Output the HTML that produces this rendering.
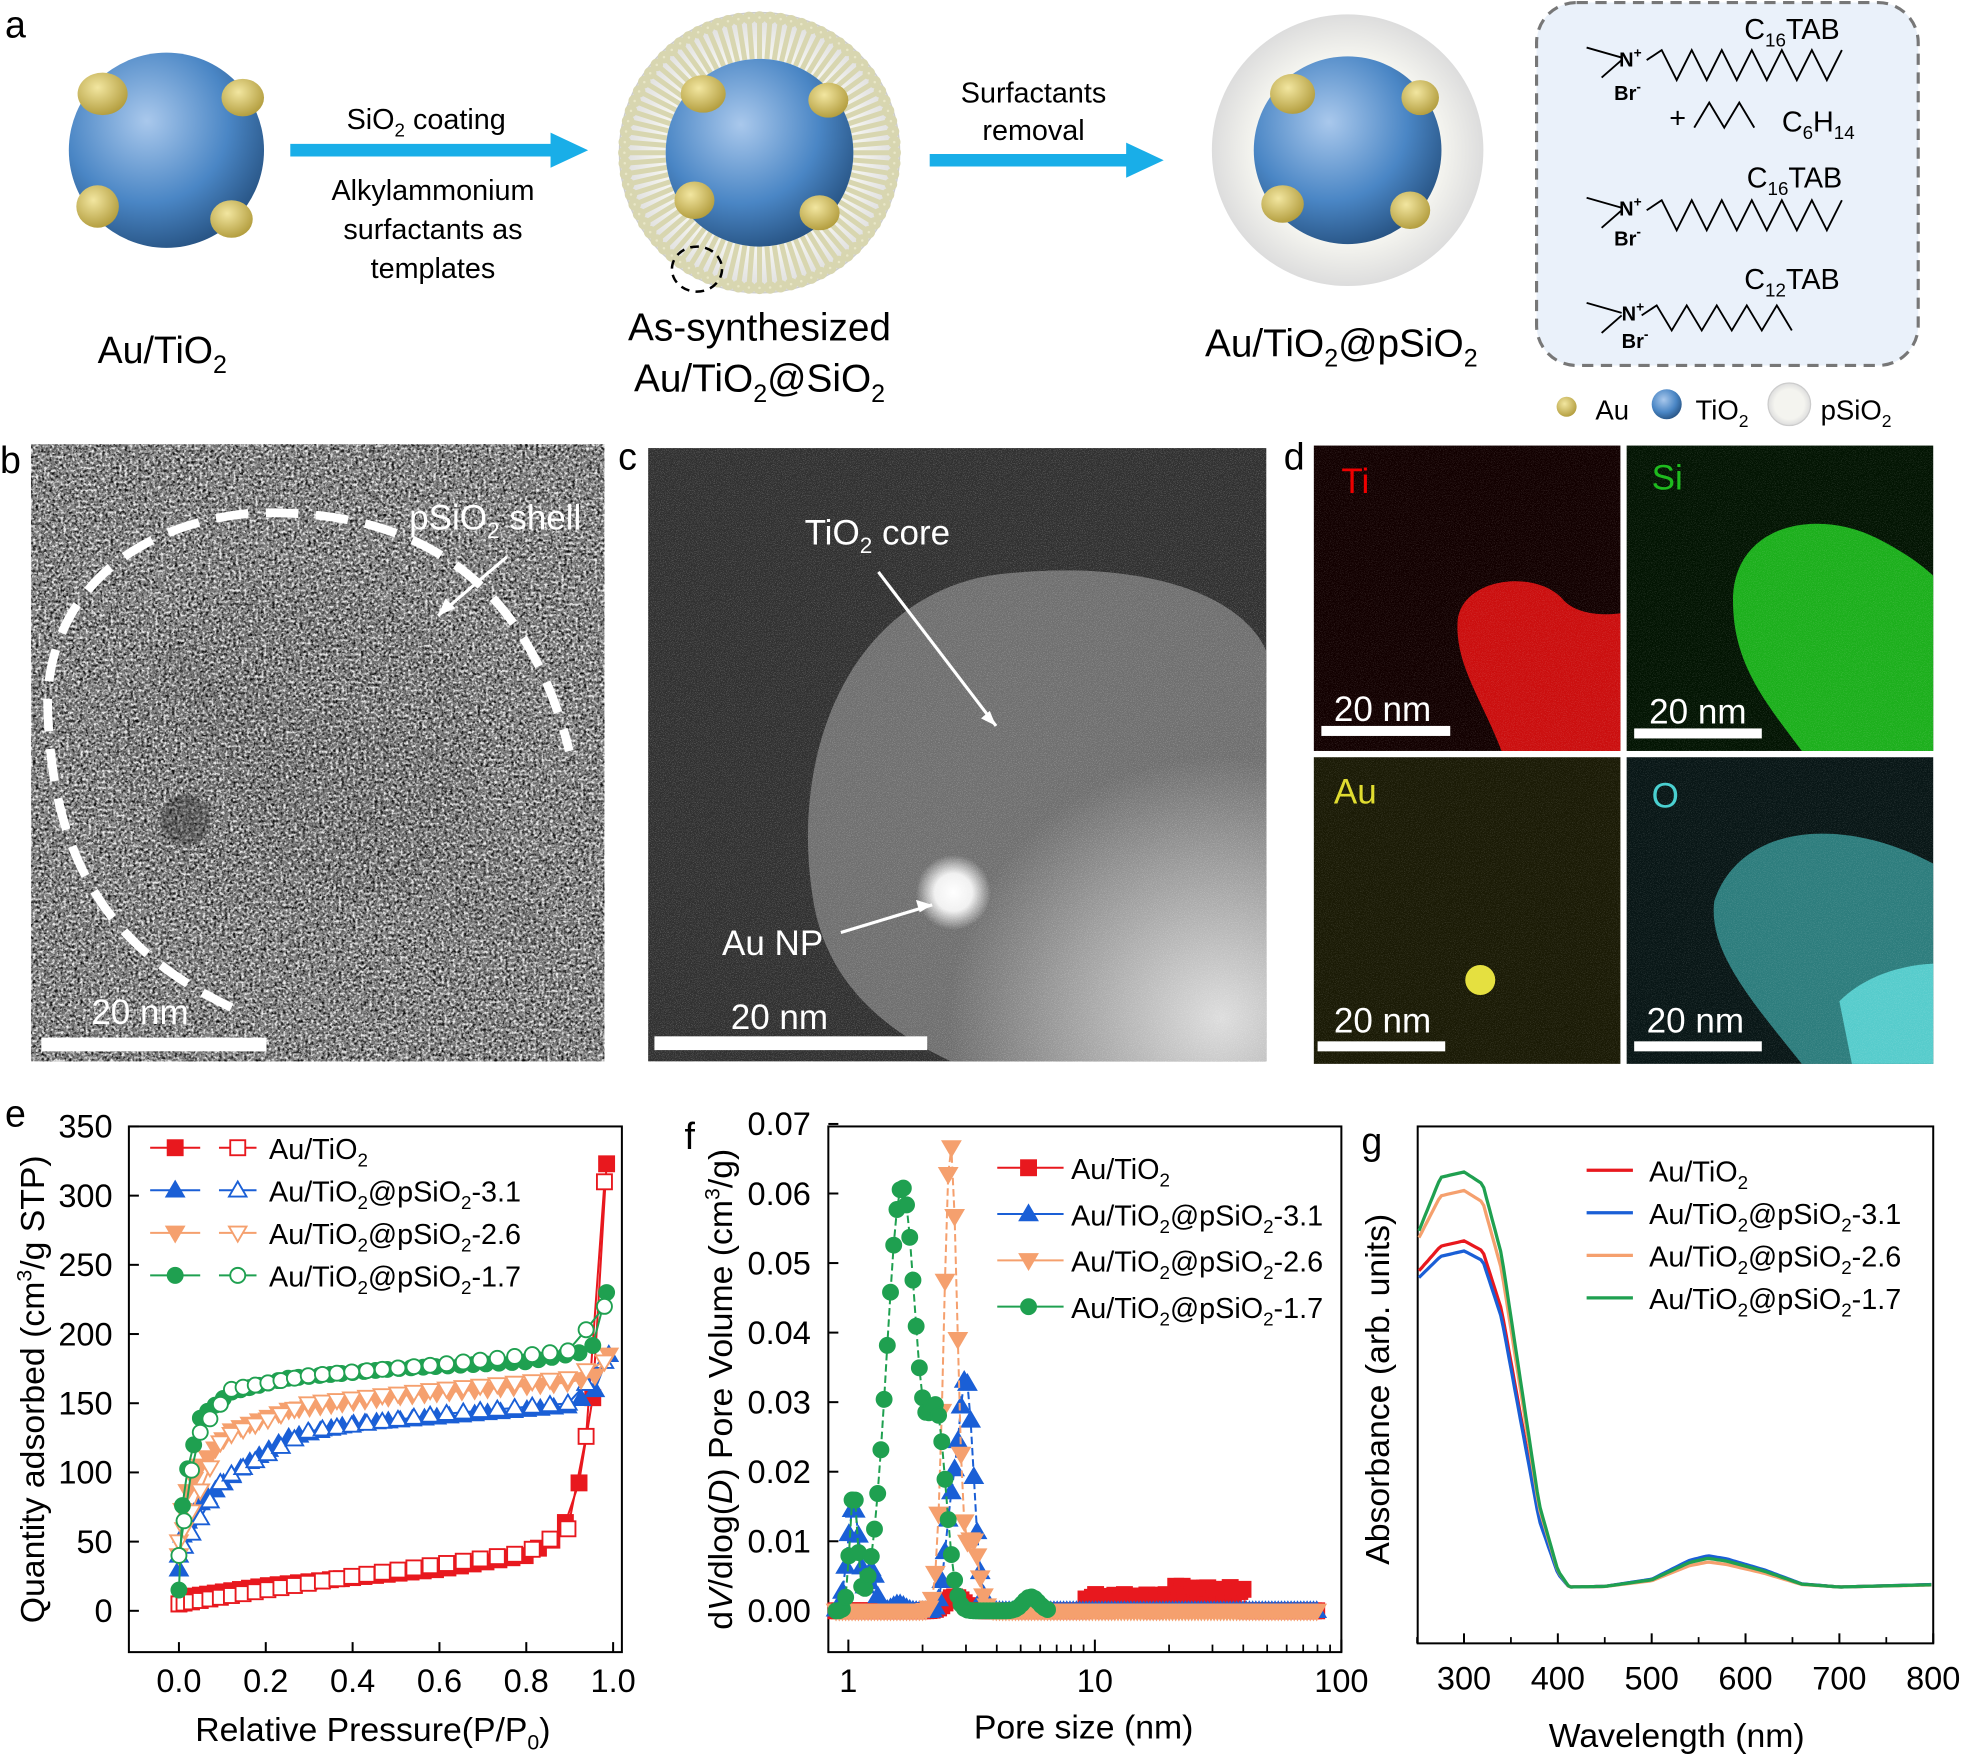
<!DOCTYPE html>
<html><head><meta charset="utf-8"><style>
html,body{margin:0;padding:0;background:#fff}
svg{display:block}
text{font-family:"Liberation Sans",Arial,sans-serif;fill:#000}
</style></head><body>
<svg id="s" width="1962" height="1756" viewBox="0 0 1568 1403" preserveAspectRatio="none" xmlns="http://www.w3.org/2000/svg">
<defs>
<radialGradient id="bl" cx="0.4" cy="0.35" r="0.7"><stop offset="0" stop-color="#a9c8ec"/><stop offset="0.6" stop-color="#4a86c5"/><stop offset="1" stop-color="#25507f"/></radialGradient>
<radialGradient id="au" cx="0.4" cy="0.35" r="0.7"><stop offset="0" stop-color="#f2e6a0"/><stop offset="1" stop-color="#b09a3a"/></radialGradient>
<radialGradient id="sh" cx="0.5" cy="0.5" r="0.5"><stop offset="0.7" stop-color="#f4f4ef"/><stop offset="1" stop-color="#ddd"/></radialGradient>
<filter id="nzb" x="0" y="0" width="1" height="1"><feTurbulence type="fractalNoise" baseFrequency="0.45" numOctaves="2" seed="3"/><feColorMatrix type="matrix" values="0 0 0 0 0  0 0 0 0 0  0 0 0 0 0  3 0 0 0 -1.3"/></filter>
<filter id="nzw" x="0" y="0" width="1" height="1"><feTurbulence type="fractalNoise" baseFrequency="0.45" numOctaves="2" seed="11"/><feColorMatrix type="matrix" values="0 0 0 0 1  0 0 0 0 1  0 0 0 0 1  3 0 0 0 -1.3"/></filter>
<filter id="nzf" x="0" y="0" width="1" height="1"><feTurbulence type="fractalNoise" baseFrequency="1.5" numOctaves="1" seed="5"/><feColorMatrix type="matrix" values="0 0 0 0 1  0 0 0 0 1  0 0 0 0 1  4 0 0 0 -2"/></filter>
<radialGradient id="aunp" cx="0.5" cy="0.5" r="0.5"><stop offset="0" stop-color="#fff"/><stop offset="0.5" stop-color="#fff" stop-opacity="0.9"/><stop offset="1" stop-color="#fff" stop-opacity="0"/></radialGradient>
<radialGradient id="cgl" cx="0.9" cy="0.9" r="0.6"><stop offset="0" stop-color="#ddd"/><stop offset="1" stop-color="#ddd" stop-opacity="0"/></radialGradient>
</defs>

<!-- panel a -->
<text x="4" y="30" font-size="30">a</text>
<circle cx="133" cy="120" r="78" fill="url(#bl)"/>
<g fill="url(#au)"><ellipse cx="82" cy="75" rx="20" ry="17"/><ellipse cx="194" cy="78" rx="17" ry="15"/><ellipse cx="78" cy="165" rx="17" ry="17"/><ellipse cx="185" cy="175" rx="17" ry="15"/></g>
<text x="78" y="290" font-size="30">Au/TiO<tspan font-size="20" dy="8">2</tspan></text>
<path d="M232 120H450" stroke="#19aee8" stroke-width="10"/><path d="M440 106l30 14-30 14z" fill="#19aee8"/>
<text x="277" y="103" font-size="23">SiO<tspan font-size="15" dy="6">2</tspan><tspan dy="-6"> coating</tspan></text>
<text x="346" y="160" font-size="23" text-anchor="middle">Alkylammonium</text>
<text x="346" y="191" font-size="23" text-anchor="middle">surfactants as</text>
<text x="346" y="222" font-size="23" text-anchor="middle">templates</text>
<circle cx="607" cy="122" r="112" fill="url(#sh)" stroke="#ccc"/>
<g id="spk" stroke="#d8d6b0" stroke-width="4"></g>
<circle cx="607" cy="122" r="75" fill="url(#bl)"/>
<g fill="url(#au)"><ellipse cx="562" cy="75" rx="18" ry="15"/><ellipse cx="662" cy="80" rx="16" ry="14"/><ellipse cx="555" cy="160" rx="16" ry="15"/><ellipse cx="655" cy="170" rx="16" ry="14"/></g>
<ellipse cx="557" cy="215" rx="20" ry="18" fill="none" stroke="#000" stroke-width="2" stroke-dasharray="7 5"/>
<text x="607" y="272" font-size="31" text-anchor="middle">As-synthesized</text>
<text x="607" y="313" font-size="31" text-anchor="middle">Au/TiO<tspan font-size="20" dy="8">2</tspan><tspan dy="-8">@SiO</tspan><tspan font-size="20" dy="8">2</tspan></text>
<path d="M743 128H910" stroke="#19aee8" stroke-width="10"/><path d="M900 114l30 14-30 14z" fill="#19aee8"/>
<text x="826" y="82" font-size="23" text-anchor="middle">Surfactants</text>
<text x="826" y="112" font-size="23" text-anchor="middle">removal</text>
<circle cx="1077" cy="120" r="108" fill="url(#sh)" stroke="#ddd"/>
<circle cx="1077" cy="120" r="75" fill="url(#bl)"/>
<g fill="url(#au)"><ellipse cx="1033" cy="75" rx="18" ry="16"/><ellipse cx="1135" cy="78" rx="15" ry="14"/><ellipse cx="1025" cy="163" rx="17" ry="15"/><ellipse cx="1127" cy="168" rx="16" ry="15"/></g>
<text x="963" y="285" font-size="31">Au/TiO<tspan font-size="20" dy="8">2</tspan><tspan dy="-8">@pSiO</tspan><tspan font-size="20" dy="8">2</tspan></text>
<rect x="1228" y="2" width="305" height="290" rx="32" fill="#eaf1fa" stroke="#777" stroke-width="2.5" stroke-dasharray="9 6"/>
<g font-size="22" stroke="#000" stroke-width="1.5" fill="none">
<path d="M1316 48l12-8 12 24 12-24 12 24 12-24 12 24 12-24 12 24 12-24 12 24 12-24 12 24 12-24"/>
<path d="M1354 102l12-20 12 20 12-20 12 20"/>
<path d="M1316 168l12-8 12 24 12-24 12 24 12-24 12 24 12-24 12 24 12-24 12 24 12-24 12 24 12-24"/>
<path d="M1312 252l12-8 12 20 12-20 12 20 12-20 12 20 12-20 12 20 12-20 12 20"/>
<path d="M1268 38l28 8M1280 62l16-14M1268 158l28 8M1280 182l16-14M1268 242l28 8M1280 266l16-14"/>
</g>
<g font-size="16" font-weight="bold"><text x="1294" y="53">N<tspan font-size="11" dy="-7">+</tspan></text><text x="1290" y="80">Br<tspan font-size="11" dy="-7">-</tspan></text>
<text x="1294" y="172">N<tspan font-size="11" dy="-7">+</tspan></text><text x="1290" y="196">Br<tspan font-size="11" dy="-7">-</tspan></text>
<text x="1296" y="256">N<tspan font-size="11" dy="-7">+</tspan></text><text x="1296" y="278">Br<tspan font-size="11" dy="-7">-</tspan></text></g>
<g font-size="23"><text x="1394" y="31">C<tspan font-size="15" dy="6">16</tspan><tspan dy="-6">TAB</tspan></text>
<text x="1334" y="102">+</text><text x="1424" y="105">C<tspan font-size="15" dy="6">6</tspan><tspan dy="-6">H</tspan><tspan font-size="15" dy="6">14</tspan></text>
<text x="1396" y="150">C<tspan font-size="15" dy="6">16</tspan><tspan dy="-6">TAB</tspan></text>
<text x="1394" y="231">C<tspan font-size="15" dy="6">12</tspan><tspan dy="-6">TAB</tspan></text></g>
<circle cx="1252" cy="325" r="8" fill="url(#au)"/><text x="1275" y="335" font-size="22">Au</text>
<circle cx="1332" cy="323" r="12" fill="url(#bl)"/><text x="1355" y="335" font-size="22">TiO<tspan font-size="14" dy="6">2</tspan></text>
<circle cx="1430" cy="323" r="17" fill="url(#sh)" stroke="#ccc"/><text x="1455" y="335" font-size="22">pSiO<tspan font-size="14" dy="6">2</tspan></text>

<!-- panel b -->
<text x="0" y="378" font-size="30">b</text>
<rect x="25" y="355" width="458" height="493" fill="#7c7c7c"/>
<ellipse cx="240" cy="600" rx="150" ry="130" fill="#555" opacity="0.15"/>
<rect x="25" y="355" width="458" height="493" filter="url(#nzb)" opacity="0.9"/>
<rect x="25" y="355" width="458" height="493" filter="url(#nzw)" opacity="0.9"/>
<g stroke="#444" stroke-width="1" opacity="0.25" id="fr"></g>
<circle cx="148" cy="655" r="20" fill="#333" opacity="0.4"/>
<path d="M185 805C90 760 40 690 38 560C40 480 100 420 200 410C330 405 420 460 455 600" fill="none" stroke="#fff" stroke-width="7" stroke-dasharray="26 14"/>
<path d="M405 445L350 492" stroke="#fff" stroke-width="2.5"/><path d="M350 492l6-14 8 8z" fill="#fff"/>
<text x="327" y="423" font-size="28" style="fill:#fff">pSiO<tspan font-size="18" dy="7">2</tspan><tspan dy="-7"> shell</tspan></text>
<rect x="33" y="829" width="180" height="11" fill="#fff"/>
<text x="73" y="818" font-size="28" style="fill:#fff">20 nm</text>

<!-- panel c -->
<text x="494" y="375" font-size="30">c</text>
<rect x="518" y="358" width="494" height="490" fill="#303030"/>
<path d="M650 720C630 600 680 480 790 460C900 445 990 470 1012 520V848H760C700 820 660 780 650 720Z" fill="#777" opacity="0.9"/>
<rect x="650" y="500" width="362" height="348" fill="url(#cgl)"/>
<rect x="518" y="358" width="494" height="490" filter="url(#nzf)" opacity="0.25"/>
<circle cx="762" cy="713" r="30" fill="url(#aunp)"/>
<path d="M702 457L796 580" stroke="#fff" stroke-width="2.5"/><path d="M796 580l-12-6 7-6z" fill="#fff"/>
<path d="M672 745L745 723" stroke="#fff" stroke-width="2.5"/><path d="M745 723l-13-4 3 10z" fill="#fff"/>
<text x="643" y="435" font-size="28" style="fill:#fff">TiO<tspan font-size="18" dy="7">2</tspan><tspan dy="-7"> core</tspan></text>
<text x="577" y="763" font-size="28" style="fill:#fff">Au NP</text>
<rect x="523" y="828" width="218" height="11" fill="#fff"/>
<text x="584" y="822" font-size="28" style="fill:#fff">20 nm</text>

<!-- panel d -->
<text x="1026" y="375" font-size="30">d</text>
<g>
<rect x="1050" y="356" width="245" height="244" fill="#120000"/>
<path d="M1165 495C1170 460 1230 455 1250 480C1265 495 1295 490 1295 490V600H1200C1185 560 1162 530 1165 495Z" fill="#e01010" opacity="0.9"/>
<rect x="1050" y="356" width="245" height="244" filter="url(#nzf)" opacity="0.15"/>
<text x="1072" y="394" font-size="28" style="fill:#e00">Ti</text>
<rect x="1056" y="580" width="103" height="8" fill="#fff"/><text x="1066" y="576" font-size="28" style="fill:#fff">20 nm</text>
<rect x="1300" y="356" width="245" height="244" fill="#021402"/>
<path d="M1385 480C1385 420 1450 405 1500 430C1530 445 1545 460 1545 460V600H1440C1410 560 1385 530 1385 480Z" fill="#1fc01f" opacity="0.9"/>
<rect x="1300" y="356" width="245" height="244" filter="url(#nzf)" opacity="0.15"/>
<text x="1320" y="391" font-size="28" style="fill:#1ebb1e">Si</text>
<rect x="1306" y="582" width="102" height="8" fill="#fff"/><text x="1318" y="578" font-size="28" style="fill:#fff">20 nm</text>
<rect x="1050" y="605" width="245" height="245" fill="#1a1a05"/>
<rect x="1050" y="605" width="245" height="245" filter="url(#nzf)" opacity="0.15"/>
<circle cx="1183" cy="783" r="12" fill="#e5e040"/>
<text x="1066" y="642" font-size="28" style="fill:#e0dc30">Au</text>
<rect x="1053" y="832" width="102" height="8" fill="#fff"/><text x="1066" y="825" font-size="28" style="fill:#fff">20 nm</text>
<rect x="1300" y="605" width="245" height="245" fill="#081616"/>
<path d="M1370 720C1390 660 1470 650 1545 690V850H1440C1400 800 1365 760 1370 720Z" fill="#3aa0a0" opacity="0.75"/>
<path d="M1470 800C1500 770 1545 770 1545 770V850H1480Z" fill="#60e0e0" opacity="0.8"/>
<rect x="1300" y="605" width="245" height="245" filter="url(#nzf)" opacity="0.15"/>
<text x="1320" y="645" font-size="28" style="fill:#4ad0d0">O</text>
<rect x="1306" y="832" width="102" height="8" fill="#fff"/><text x="1316" y="825" font-size="28" style="fill:#fff">20 nm</text>
</g>

<!-- plot frames -->
<g fill="none" stroke="#000" stroke-width="1.6">
<rect x="103" y="900" width="394" height="420"/>
<rect x="662" y="900" width="410" height="420"/>
<rect x="1133" y="900" width="412" height="413"/>
</g>
<g id="plots"></g>
<text x="4" y="900" font-size="30">e</text>
<text x="547" y="918" font-size="30">f</text>
<text x="1088" y="922" font-size="30">g</text>
<text transform="translate(35,1110) rotate(-90)" font-size="27" text-anchor="middle">Quantity adsorbed (cm<tspan font-size="17" dy="-10">3</tspan><tspan dy="10">/g STP)</tspan></text>
<text x="298" y="1391" font-size="27" text-anchor="middle">Relative Pressure(P/P<tspan font-size="17" dy="7">0</tspan><tspan dy="-7">)</tspan></text>
<text transform="translate(585,1110) rotate(-90)" font-size="27" text-anchor="middle">d<tspan font-style="italic">V</tspan>/dlog(<tspan font-style="italic">D</tspan>) Pore Volume (cm<tspan font-size="17" dy="-10">3</tspan><tspan dy="10">/g)</tspan></text>
<text x="866" y="1389" font-size="27" text-anchor="middle">Pore size (nm)</text>
<text transform="translate(1110,1110) rotate(-90)" font-size="27" text-anchor="middle">Absorbance (arb. units)</text>
<text x="1340" y="1396" font-size="27" text-anchor="middle">Wavelength (nm)</text>
</svg>
<script>
var NS="http://www.w3.org/2000/svg",P=document.getElementById('plots');
function el(t,a,par){var e=document.createElementNS(NS,t);for(var k in a)e.setAttribute(k,a[k]);(par||P).appendChild(e);return e;}
function tx(x,y,s,sz,anc){var e=el('text',{x:x,y:y,'font-size':sz||24,'text-anchor':anc||'start'});e.innerHTML=s;return e;}
var S=document.getElementById('spk');
for(var i=0;i<80;i++){var a=i/80*Math.PI*2;el('line',{x1:607+75*Math.cos(a),y1:122+75*Math.sin(a),x2:607+108*Math.cos(a),y2:122+108*Math.sin(a)},S);el('circle',{cx:607+108*Math.cos(a),cy:122+108*Math.sin(a),r:3,fill:'#e9e7c8'},S);}
var FR=document.getElementById('fr');
for(var i=0;i<40;i++){el('line',{x1:130+i*6,y1:520+i*2,x2:220+i*6,y2:690+i*2},FR);}
function interp(pts,x){for(var i=0;i<pts.length-1;i++){if(x<=pts[i+1][0]){var t=(x-pts[i][0])/(pts[i+1][0]-pts[i][0]);return pts[i][1]+t*(pts[i+1][1]-pts[i][1]);}}return pts[pts.length-1][1];}
function marker(type,x,y,c,fill){var f=fill?c:'#fff';var r=6;
 if(type=='s')el('rect',{x:x-r,y:y-r,width:2*r,height:2*r,fill:f,stroke:c,'stroke-width':1.5});
 else if(type=='c')el('circle',{cx:x,cy:y,r:r,fill:f,stroke:c,'stroke-width':1.5});
 else if(type=='u')el('path',{d:'M'+x+' '+(y-r-1)+'l'+(r+1)+' '+(2*r)+'h'+(-2*r-2)+'z',fill:f,stroke:c,'stroke-width':1.5});
 else el('path',{d:'M'+x+' '+(y+r+1)+'l'+(r+1)+' '+(-2*r)+'h'+(-2*r-2)+'z',fill:f,stroke:c,'stroke-width':1.5});}
function line(pts,c,dash,w){el('polyline',{points:pts.map(function(p){return p[0].toFixed(1)+','+p[1].toFixed(1)}).join(' '),fill:'none',stroke:c,'stroke-width':w||1.6,'stroke-dasharray':dash||''});}
// ---- plot e
var ex=function(v){return 143+v*347},ey=function(v){return 1287-v*387/350};
[0,50,100,150,200,250,300,350].forEach(function(v){el('line',{x1:103,x2:111,y1:ey(v),y2:ey(v),stroke:'#000','stroke-width':1.6});tx(90,ey(v)+9,v,26,'end');});
[0,0.2,0.4,0.6,0.8,1.0].forEach(function(v){el('line',{x1:ex(v),x2:ex(v),y1:1320,y2:1312,stroke:'#000','stroke-width':1.6});tx(ex(v),1352,v.toFixed(1),26,'middle');});
var E=[['#e8181e','s',[[0,5],[0.02,10],[0.2,18],[0.6,30],[0.8,40],[0.88,55],[0.92,90],[0.95,140],[0.97,230],[0.985,323]],[[0,5],[0.4,25],[0.8,42],[0.9,60],[0.94,130],[0.97,260],[0.98,310]]],
['#1a5fd6','u',[[0,30],[0.01,60],[0.05,78],[0.15,105],[0.25,125],[0.4,135],[0.6,140],[0.9,148],[0.96,160],[0.99,185]],[[0,40],[0.1,95],[0.3,130],[0.6,142],[0.9,150],[0.98,180]]],
['#f5a06e','d',[[0,40],[0.01,80],[0.05,105],[0.12,130],[0.25,145],[0.5,155],[0.9,165],[0.96,170],[0.99,185]],[[0,50],[0.1,125],[0.3,150],[0.6,160],[0.9,168],[0.98,180]]],
['#1fa050','c',[[0,15],[0.01,90],[0.05,140],[0.12,158],[0.25,168],[0.5,175],[0.8,180],[0.95,188],[0.985,230]],[[0,40],[0.04,125],[0.12,160],[0.3,170],[0.6,178],[0.9,188],[0.98,220]]]];
E.forEach(function(s){var a=[],b=[];for(var i=0;i<=40;i++){var x=Math.pow(i/40,1.3)*s[2][s[2].length-1][0];a.push([ex(x),ey(interp(s[2],x))]);}
 for(var i=0;i<=30;i++){var x=Math.pow(i/30,1.3)*s[3][s[3].length-1][0];b.push([ex(x),ey(interp(s[3],x))]);}
 line(a,s[0]);line(b,s[0]);a.forEach(function(p){marker(s[1],p[0],p[1],s[0],true)});b.forEach(function(p){marker(s[1],p[0],p[1],s[0],false)});});
var lab=['Au/TiO<tspan font-size="15" dy="6">2</tspan>','Au/TiO<tspan font-size="15" dy="6">2</tspan><tspan dy="-6">@pSiO</tspan><tspan font-size="15" dy="6">2</tspan><tspan dy="-6">-3.1</tspan>','Au/TiO<tspan font-size="15" dy="6">2</tspan><tspan dy="-6">@pSiO</tspan><tspan font-size="15" dy="6">2</tspan><tspan dy="-6">-2.6</tspan>','Au/TiO<tspan font-size="15" dy="6">2</tspan><tspan dy="-6">@pSiO</tspan><tspan font-size="15" dy="6">2</tspan><tspan dy="-6">-1.7</tspan>'];
E.forEach(function(s,i){var y=917+i*34;line([[120,y],[160,y]],s[0]);marker(s[1],140,y,s[0],true);line([[175,y],[205,y]],s[0]);marker(s[1],190,y,s[0],false);tx(215,y+9,lab[i],23);});
// ---- plot f
var fx=function(d){return 678+Math.log10(d)*197},fy=function(v){return 1287-v*5557};
[0,0.01,0.02,0.03,0.04,0.05,0.06,0.07].forEach(function(v){el('line',{x1:662,x2:670,y1:fy(v),y2:fy(v),stroke:'#000','stroke-width':1.6});tx(648,fy(v)+9,v.toFixed(2),26,'end');});
[[1,'1'],[10,'10'],[100,'100']].forEach(function(v){el('line',{x1:fx(v[0]),x2:fx(v[0]),y1:1320,y2:1310,stroke:'#000','stroke-width':1.6});tx(fx(v[0]),1352,v[1],26,'middle');});
for(var d=2;d<10;d++)el('line',{x1:fx(d),x2:fx(d),y1:1320,y2:1314,stroke:'#000','stroke-width':1.4});
for(var d=20;d<100;d+=10)el('line',{x1:fx(d),x2:fx(d),y1:1320,y2:1314,stroke:'#000','stroke-width':1.4});
function g(x,m,s,h){return h*Math.exp(-Math.pow((Math.log(x)-Math.log(m))/s,2));}
var F=[['#e8181e','s',function(x){return g(x,2.7,0.12,0.002)+(x>9&&x<40?0.0015+0.0015*Math.sin(x*3)*Math.sin(x)+ (x>20?0.0012:0):0)}],
['#1a5fd6','u',function(x){return g(x,1.05,0.08,0.015)+g(x,1.25,0.05,0.006)+g(x,3.0,0.1,0.033)+g(x,2.6,0.08,0.012)+g(x,1.6,0.08,0.001)}],
['#f5a06e','d',function(x){return g(x,2.6,0.09,0.067)+g(x,3.2,0.08,0.01)}],
['#1fa050','c',function(x){return g(x,1.05,0.05,0.017)+g(x,1.65,0.2,0.061)+g(x,2.3,0.12,0.025)+g(x,5.5,0.1,0.002)}]];
F.forEach(function(s){var pts=[];var xmax=s[0]=='#1fa050'?6.5:80;for(var i=0;i<=150;i++){var x=Math.pow(10,-0.05+i/150*1.95);if(x>xmax)break;pts.push([fx(x),fy(s[2](x))]);}
 line(pts,s[0],'6 3',1.6);pts.forEach(function(p){marker(s[1],p[0],p[1],s[0],true)});});
F.forEach(function(s,i){var y=933+i*37;line([[797,y],[850,y]],s[0]);marker(s[1],822,y,s[0],true);tx(856,y+9,lab[i],23);});
// ---- plot g
var gx=function(w){return 1170+(w-300)*0.75};
[300,400,500,600,700,800].forEach(function(v){el('line',{x1:gx(v),x2:gx(v),y1:1313,y2:1305,stroke:'#000','stroke-width':1.6});tx(gx(v),1350,v,26,'middle');});
for(var v=250;v<800;v+=100)el('line',{x1:gx(v),x2:gx(v),y1:1313,y2:1308,stroke:'#000','stroke-width':1.4});
var main=[[250,0.94],[270,0.98],[300,1],[320,0.97],[340,0.8],[360,0.5],[380,0.2],[400,0.04],[412,0],[800,0]];
var bump=[[412,0],[450,0.02],[500,0.25],[540,0.85],[560,1],[580,0.9],[620,0.55],[660,0.1],[700,0],[800,0.08]];
var G=[['#e8181e',990,24,[250,1015]],['#1a5fd6',998,25,[250,1020]],['#f5a06e',950,20,[250,990]],['#1fa050',935,23,[250,985]]];
G.forEach(function(s){var pts=[];var yb=1268,peak=s[1];for(var w=252;w<=800;w+=3){var v=interp(main,w);var y=yb-v*(yb-peak);if(w<300){y=interp([[250,s[3][1]],[275,peak+4],[300,peak]],w);}y-=interp(bump,w)*s[2];pts.push([gx(w),y]);}
 line(pts,s[0],'',2.6);});
['#e8181e','#1a5fd6','#f5a06e','#1fa050'].forEach(function(c,i){var y=935+i*34;line([[1268,y],[1305,y]],c,'',2.6);tx(1318,y+9,lab[i],23);});
</script>
</body></html>
